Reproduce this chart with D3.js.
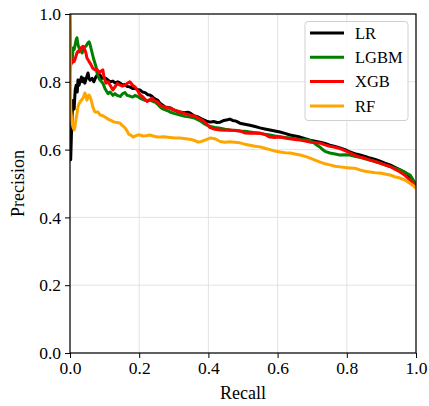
<!DOCTYPE html>
<html>
<head>
<meta charset="utf-8">
<script src="https://cdn.jsdelivr.net/npm/d3@7"></script>
<style>
  html, body { margin: 0; padding: 0; background: #fff; }
  svg { display: block; }
  text { font-family: "Liberation Serif", "DejaVu Serif", serif; fill: #000; }
</style>
</head>
<body>
<svg id="chart" width="429" height="406"></svg>
<script>
// Precision-recall curves for four classifiers: [recall, precision]
const lrCurve = [
  [0.000,0.60],[0.002,0.57],[0.004,0.64],[0.006,0.70],[0.009,0.745],[0.012,0.72],[0.015,0.776],[0.018,0.79],
  [0.021,0.77],[0.023,0.805],[0.026,0.79],[0.029,0.80],[0.033,0.814],[0.037,0.80],[0.040,0.81],[0.043,0.796],
  [0.047,0.81],[0.052,0.826],[0.055,0.81],[0.058,0.805],[0.064,0.81],[0.069,0.80],[0.075,0.815],[0.081,0.822],
  [0.087,0.82],[0.092,0.81],[0.098,0.812],[0.104,0.81],[0.110,0.805],[0.116,0.80],[0.124,0.802],[0.130,0.797],
  [0.138,0.80],[0.145,0.796],[0.152,0.79],[0.159,0.792],[0.166,0.786],[0.173,0.785],[0.181,0.78],[0.188,0.781],
  [0.195,0.777],[0.202,0.776],[0.209,0.77],[0.217,0.768],[0.225,0.762],[0.231,0.761],[0.237,0.757],[0.242,0.752],
  [0.248,0.748],[0.254,0.745],[0.260,0.737],[0.268,0.731],[0.275,0.726],[0.283,0.724],[0.290,0.723],[0.300,0.717],
  [0.310,0.713],[0.318,0.711],[0.330,0.709],[0.340,0.71],[0.347,0.708],[0.358,0.70],[0.368,0.697],[0.376,0.693],
  [0.385,0.688],[0.395,0.684],[0.405,0.681],[0.415,0.683],[0.425,0.68],[0.434,0.681],[0.445,0.686],[0.455,0.688],
  [0.462,0.69],[0.470,0.686],[0.480,0.684],[0.491,0.678],[0.505,0.675],[0.520,0.672],[0.535,0.668],[0.549,0.664],
  [0.563,0.661],[0.578,0.658],[0.592,0.655],[0.607,0.652],[0.621,0.648],[0.636,0.643],[0.650,0.64],[0.665,0.637],
  [0.680,0.632],[0.694,0.628],[0.708,0.625],[0.723,0.622],[0.737,0.618],[0.751,0.613],[0.766,0.609],[0.780,0.605],
  [0.795,0.60],[0.809,0.593],[0.823,0.588],[0.838,0.584],[0.853,0.58],[0.867,0.575],[0.882,0.571],[0.896,0.566],
  [0.910,0.56],[0.925,0.555],[0.939,0.548],[0.954,0.54],[0.968,0.533],[0.983,0.52],[0.992,0.505],[1.000,0.49]
];

const lgbmCurve = [
  [0.000,0.80],[0.003,0.88],[0.006,0.86],[0.009,0.90],[0.012,0.895],[0.015,0.91],[0.018,0.925],[0.020,0.93],
  [0.023,0.91],[0.026,0.90],[0.029,0.895],[0.032,0.89],[0.035,0.885],[0.040,0.90],[0.046,0.905],[0.052,0.915],
  [0.055,0.918],[0.058,0.91],[0.064,0.885],[0.069,0.865],[0.075,0.845],[0.078,0.826],[0.084,0.81],[0.087,0.805],
  [0.095,0.796],[0.101,0.78],[0.104,0.775],[0.110,0.765],[0.116,0.77],[0.124,0.76],[0.130,0.765],[0.136,0.76],
  [0.145,0.757],[0.152,0.765],[0.159,0.768],[0.165,0.76],[0.173,0.758],[0.181,0.755],[0.188,0.76],[0.195,0.757],
  [0.202,0.752],[0.210,0.748],[0.217,0.745],[0.225,0.745],[0.231,0.746],[0.240,0.742],[0.246,0.74],[0.255,0.732],
  [0.260,0.726],[0.268,0.72],[0.275,0.717],[0.283,0.714],[0.289,0.711],[0.300,0.707],[0.318,0.702],[0.332,0.698],
  [0.347,0.696],[0.362,0.692],[0.376,0.685],[0.390,0.675],[0.405,0.668],[0.419,0.665],[0.434,0.663],[0.448,0.66],
  [0.462,0.658],[0.476,0.657],[0.491,0.655],[0.505,0.654],[0.520,0.652],[0.535,0.65],[0.549,0.648],[0.563,0.645],
  [0.578,0.643],[0.592,0.64],[0.607,0.638],[0.621,0.636],[0.636,0.634],[0.650,0.632],[0.665,0.63],[0.680,0.629],
  [0.694,0.627],[0.705,0.62],[0.715,0.612],[0.723,0.607],[0.730,0.60],[0.737,0.595],[0.751,0.59],[0.766,0.587],
  [0.780,0.584],[0.795,0.585],[0.809,0.584],[0.823,0.58],[0.838,0.577],[0.853,0.573],[0.867,0.569],[0.882,0.565],
  [0.896,0.56],[0.910,0.555],[0.925,0.55],[0.939,0.545],[0.954,0.54],[0.968,0.533],[0.983,0.525],[0.992,0.51],
  [1.000,0.495]
];

const xgbCurve = [
  [0.000,1.00],[0.001,0.95],[0.002,0.85],[0.004,0.86],[0.006,0.855],[0.009,0.865],[0.012,0.86],[0.014,0.865],
  [0.017,0.875],[0.020,0.885],[0.023,0.89],[0.026,0.888],[0.029,0.894],[0.032,0.90],[0.035,0.903],[0.038,0.905],
  [0.043,0.895],[0.046,0.885],[0.049,0.87],[0.052,0.865],[0.058,0.855],[0.061,0.85],[0.066,0.84],[0.072,0.835],
  [0.078,0.837],[0.084,0.826],[0.087,0.83],[0.095,0.835],[0.098,0.815],[0.104,0.796],[0.110,0.80],[0.116,0.79],
  [0.124,0.776],[0.130,0.785],[0.137,0.795],[0.145,0.79],[0.152,0.787],[0.159,0.79],[0.165,0.795],[0.173,0.80],
  [0.181,0.79],[0.188,0.785],[0.195,0.775],[0.202,0.762],[0.211,0.755],[0.223,0.742],[0.231,0.748],[0.237,0.752],
  [0.243,0.745],[0.254,0.74],[0.260,0.732],[0.266,0.728],[0.275,0.725],[0.289,0.722],[0.303,0.716],[0.318,0.711],
  [0.332,0.706],[0.347,0.702],[0.362,0.698],[0.376,0.69],[0.385,0.685],[0.395,0.675],[0.405,0.665],[0.419,0.66],
  [0.434,0.658],[0.448,0.657],[0.462,0.658],[0.476,0.656],[0.491,0.655],[0.505,0.649],[0.520,0.648],[0.535,0.649],
  [0.549,0.648],[0.563,0.645],[0.578,0.637],[0.592,0.636],[0.607,0.637],[0.621,0.634],[0.636,0.632],[0.650,0.63],
  [0.665,0.628],[0.680,0.625],[0.694,0.622],[0.708,0.621],[0.723,0.619],[0.737,0.614],[0.751,0.61],[0.766,0.607],
  [0.780,0.603],[0.795,0.597],[0.809,0.59],[0.823,0.584],[0.838,0.578],[0.853,0.574],[0.867,0.569],[0.882,0.565],
  [0.896,0.56],[0.910,0.555],[0.925,0.55],[0.939,0.542],[0.954,0.534],[0.968,0.524],[0.983,0.51],[0.992,0.50],
  [1.000,0.488]
];

const rfCurve = [
  [0.000,1.00],[0.001,0.85],[0.002,0.72],[0.004,0.70],[0.006,0.678],[0.009,0.665],[0.012,0.658],[0.014,0.665],
  [0.017,0.687],[0.020,0.705],[0.023,0.726],[0.026,0.735],[0.029,0.74],[0.032,0.745],[0.038,0.752],[0.043,0.767],
  [0.046,0.76],[0.049,0.746],[0.052,0.755],[0.055,0.761],[0.058,0.755],[0.061,0.746],[0.064,0.735],[0.066,0.726],
  [0.072,0.711],[0.081,0.711],[0.087,0.702],[0.095,0.70],[0.101,0.696],[0.110,0.69],[0.116,0.687],[0.124,0.683],
  [0.130,0.681],[0.136,0.68],[0.145,0.678],[0.150,0.672],[0.159,0.664],[0.165,0.655],[0.170,0.645],[0.176,0.643],
  [0.182,0.637],[0.188,0.64],[0.195,0.643],[0.202,0.643],[0.211,0.64],[0.220,0.641],[0.231,0.643],[0.240,0.64],
  [0.252,0.637],[0.260,0.637],[0.272,0.638],[0.289,0.636],[0.303,0.634],[0.318,0.634],[0.335,0.632],[0.350,0.63],
  [0.362,0.626],[0.370,0.622],[0.380,0.624],[0.390,0.628],[0.405,0.634],[0.419,0.632],[0.434,0.624],[0.448,0.622],
  [0.462,0.623],[0.476,0.622],[0.491,0.62],[0.505,0.616],[0.520,0.613],[0.535,0.61],[0.549,0.608],[0.563,0.604],
  [0.578,0.60],[0.592,0.596],[0.607,0.593],[0.621,0.591],[0.636,0.59],[0.650,0.587],[0.665,0.584],[0.680,0.58],
  [0.694,0.575],[0.708,0.569],[0.723,0.563],[0.737,0.558],[0.751,0.555],[0.766,0.551],[0.780,0.549],[0.795,0.547],
  [0.809,0.546],[0.823,0.545],[0.838,0.54],[0.853,0.536],[0.867,0.534],[0.882,0.532],[0.896,0.531],[0.910,0.528],
  [0.925,0.525],[0.939,0.52],[0.954,0.516],[0.968,0.51],[0.983,0.50],[0.992,0.494],[1.000,0.485]
];

const seriesNames = ["LR", "LGBM", "XGB", "RF"];
const seriesColors = ["#000000", "#008000", "#ff0000", "#ffa500"];
const seriesData = [lrCurve, lgbmCurve, xgbCurve, rfCurve];

const xTicks = [0, 0.2, 0.4, 0.6, 0.8, 1.0];
const yTicks = [0, 0.2, 0.4, 0.6, 0.8, 1.0];

const margin = { left: 70, top: 14, right: 13, bottom: 53 };
const W = 429, H = 406;
const iw = W - margin.left - margin.right;
const ih = H - margin.top - margin.bottom;

const svg = d3.select("#chart");
const x = d3.scaleLinear().domain([0, 1]).range([margin.left, margin.left + iw]);
const y = d3.scaleLinear().domain([0, 1]).range([margin.top + ih, margin.top]);

// grid
const grid = svg.append("g");
grid.selectAll("line.gx").data(xTicks).join("line")
  .attr("x1", d => x(d)).attr("x2", d => x(d))
  .attr("y1", margin.top).attr("y2", margin.top + ih)
  .attr("stroke", "#e3e3e3").attr("stroke-width", 1);
grid.selectAll("line.gy").data(yTicks).join("line")
  .attr("y1", d => y(d)).attr("y2", d => y(d))
  .attr("x1", margin.left).attr("x2", margin.left + iw)
  .attr("stroke", "#e3e3e3").attr("stroke-width", 1);

// curves
svg.append("clipPath").attr("id", "plotclip")
  .append("rect").attr("x", margin.left).attr("y", margin.top).attr("width", iw).attr("height", ih);

const line = d3.line().x(d => x(d[0])).y(d => y(d[1]));
const curves = svg.append("g").attr("clip-path", "url(#plotclip)");
seriesData.forEach((s, i) => {
  curves.append("path").datum(s)
    .attr("d", line)
    .attr("fill", "none")
    .attr("stroke", seriesColors[i])
    .attr("stroke-width", 3)
    .attr("stroke-linejoin", "round");
});

// axes
const fmt = d3.format(".1f");
const xAxis = svg.append("g").attr("transform", `translate(0,${margin.top + ih})`)
  .call(d3.axisBottom(x).tickValues(xTicks).tickFormat(fmt).tickSize(5).tickPadding(4));
const yAxis = svg.append("g").attr("transform", `translate(${margin.left},0)`)
  .call(d3.axisLeft(y).tickValues(yTicks).tickFormat(fmt).tickSize(5).tickPadding(4));
[xAxis, yAxis].forEach(a => {
  a.select(".domain").remove();
  a.selectAll(".tick line").attr("stroke", "#000").attr("stroke-width", 1);
  a.selectAll(".tick text").style("font-family", '"Liberation Serif", serif').style("font-size", "17.5px").attr("fill", "#000");
});

// frame
svg.append("rect")
  .attr("x", margin.left).attr("y", margin.top).attr("width", iw).attr("height", ih)
  .attr("fill", "none").attr("stroke", "#000").attr("stroke-width", 1.2);

// axis titles
svg.append("text")
  .attr("x", margin.left + iw / 2).attr("y", 399)
  .attr("text-anchor", "middle").style("font-size", "18px")
  .text("Recall");
svg.append("text")
  .attr("transform", `translate(24,${margin.top + ih / 2}) rotate(-90)`)
  .attr("text-anchor", "middle").style("font-size", "18px")
  .text("Precision");

// legend
const lg = svg.append("g");
lg.append("rect")
  .attr("x", 305).attr("y", 21.5).attr("width", 103).attr("height", 99)
  .attr("rx", 3).attr("fill", "rgba(255,255,255,0.85)")
  .attr("stroke", "#d0d0d0").attr("stroke-width", 1);
seriesNames.forEach((name, i) => {
  const ly = 33 + i * 24.3;
  lg.append("line")
    .attr("x1", 310).attr("x2", 344).attr("y1", ly).attr("y2", ly)
    .attr("stroke", seriesColors[i]).attr("stroke-width", 3);
  lg.append("text")
    .attr("x", 355).attr("y", ly).attr("dy", "0.35em")
    .style("font-size", "16.5px")
    .text(name);
});
</script>
</body>
</html>
